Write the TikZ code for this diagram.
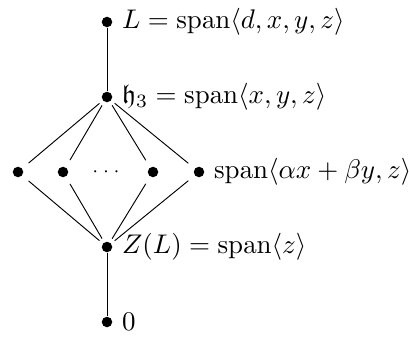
\documentclass[tikz,border=0pt]{standalone}
\usepackage{amsmath,amssymb}

\tikzset{every picture/.style={line width=0.35pt}}
\tikzset{
  dot/.style={circle,fill=black,inner sep=0pt,minimum size=3.9pt},
  txt/.style={anchor=west,inner sep=3.3pt},
  slant/.style={shorten <=1.5pt,shorten >=3pt}
}

\begin{document}
\begin{tikzpicture}[x=0.371pt,y=0.371pt,yscale=-1,xscale=1]
%set diagram frame: 409 x 338
\useasboundingbox (0,0) rectangle (409,338);

%Shape: points of the lattice
\node [dot] (top) at (107,22) {};
\node [dot] (heis) at (107,97) {};
\node [dot] (ma) at (18,172) {};
\node [dot] (mb) at (63,172) {};
\node [dot] (mc) at (153,172) {};
\node [dot] (md) at (199,172) {};
\node [dot] (cent) at (107,247) {};
\node [dot] (zero) at (107,322) {};

% Text Node
\node [txt] (ltop) at (top.east) {$L=\mathrm{span}\langle d,x,y,z\rangle$};
% Text Node
\node [txt] (lheis) at (heis.east) {$\mathfrak{h}_3=\mathrm{span}\langle x,y,z\rangle$};
% Text Node
\node [txt] (lmd) at (md.east) {$\mathrm{span}\langle \alpha x+\beta y,z\rangle$};
% Text Node
\node [txt] (lcent) at (cent.east) {$Z(L)=\mathrm{span}\langle z\rangle$};
% Text Node
\node [txt] (lzero) at (zero.east) {$0$};
% Text Node
\node [inner sep=0pt] (dots) at (106,172) {$\scriptstyle\cdotp\mkern3.5mu\cdotp\mkern3.5mu\cdotp$};

%Edges
\draw (top) -- (heis);
\draw (cent) -- (zero);
\foreach \m in {ma,mb,mc,md}{
  \draw [slant] (heis) -- (\m);
  \draw [slant,shorten <=3pt,shorten >=1.5pt] (\m) -- (cent);
}

\end{tikzpicture}
\end{document}
